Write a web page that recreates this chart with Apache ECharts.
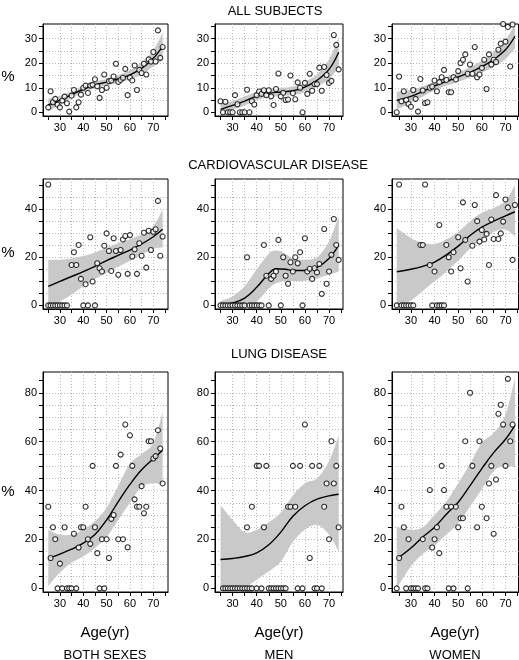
<!DOCTYPE html>
<html><head><meta charset="utf-8">
<script src="https://cdn.jsdelivr.net/npm/echarts@6/dist/echarts.min.js"></script>
<style>html,body{margin:0;padding:0;background:#fff}#c{width:519px;height:660px}</style>
</head><body><div id="c"></div>
<script>
// ---------- tick labels ----------
const xLabelVals = [30, 40, 50, 60, 70];
const xTickVals = [25, 30, 35, 40, 45, 50, 55, 60, 65, 70, 75];
const yLabelsRow1 = [0, 10, 20, 30];
const yLabelsRow2 = [0, 20, 40];
const yLabelsRow3 = [0, 20, 40, 60, 80];
const yTicksRow1 = [0, 5, 10, 15, 20, 25, 30, 35];
const yTicksRow2 = [0, 5, 10, 15, 20, 25, 30, 35, 40, 45, 50];
const yTicksRow3 = [0, 5, 10, 15, 20, 25, 30, 35, 40, 45, 50, 55, 60, 65, 70, 75, 80, 85];
const rowTitles = ['ALL SUBJECTS', 'CARDIOVASCULAR DISEASE', 'LUNG DISEASE'];
const colTitles = ['BOTH SEXES', 'MEN', 'WOMEN'];

// ---------- ALL SUBJECTS ----------
const ageAllBoth = [25,26,27,28,29,30,31,32,33,34,35,36,37,38,39,40,41,42,43,44,45,46,47,48,49,50,51,52,53,54,55,56,57,58,59,60,61,62,63,64,65,66,67,68,69,70,71,72,73,74];
const valAllBoth = [2.0,8.6,4.1,5.5,3.1,2.0,4.8,6.4,3.7,0.3,6.8,9.1,2.0,4.1,7.2,10.0,10.9,7.9,10.9,11.2,13.5,10.6,5.9,9.1,15.4,10.0,12.7,13.0,14.6,19.8,12.4,13.2,14.1,17.7,7.0,14.1,13.0,19.1,9.1,17.3,16.0,19.8,15.4,21.6,20.7,24.6,20.7,33.4,22.2,26.6];
const ageAllMen = [25,26,27,28,29,30,31,32,33,34,35,36,37,38,39,40,41,42,43,44,45,46,47,48,49,50,51,52,53,54,55,56,57,58,59,60,61,62,63,64,65,66,67,68,69,70,71,72,73,74];
const valAllMen = [4.5,0,4.3,0,0,0,7.0,3.3,0,0,0,9.2,0,4.5,3.2,7.0,8.5,7.5,9.0,7.0,9.0,6.5,3.0,9.5,15.8,6.5,8.0,5.0,5.2,15.0,7.8,5.3,12.2,10.0,0,12.0,7.5,15.7,8.8,11.5,11.5,18.2,8.8,18.5,15.2,12.0,12.8,31.5,27.5,17.5];
const ageAllWomen = [24,25,26,27,28,29,30,31,32,33,34,35,36,37,38,39,40,41,42,43,44,45,46,47,48,49,50,51,52,53,54,55,56,57,58,59,60,61,62,63,64,65,66,67,68,69,70,71,72,73];
const valAllWomen = [0,14.6,4.5,8.6,5.0,3.4,2.3,9.1,5.5,0.3,13.6,8.9,3.8,4.1,10.0,10.5,13.0,8.6,12.3,14.3,17.3,13.2,8.2,8.2,14.3,13.4,16.8,20.1,21.4,23.6,15.7,19.5,15.7,26.6,14.3,15.4,18.1,21.4,9.5,23.6,19.5,21.4,20.5,25.5,28.0,36.0,28.8,34.8,18.7,35.8];

// ---------- CARDIOVASCULAR DISEASE ----------
const ageCvdBoth = [25,25,26,27,28,29,30,31,32,33,35,36,37,38,39,40,41,42,43,44,45,46,47,48,49,50,51,52,53,54,55,56,57,58,59,60,61,62,63,64,65,66,67,68,69,70,71,72,73,74];
const valCvdBoth = [50.2,0,0,0,0,0,0,0,0,0,16.8,22.1,16.8,25.1,11.0,0,8.8,0,28.3,9.9,0,17.5,15.4,14.1,24.8,29.9,22.6,14.3,27.9,22.6,12.7,23.0,27.4,28.8,13.1,29.2,20.3,23.3,13.1,25.8,20.6,30.2,15.7,31.0,23.0,30.6,31.6,43.4,20.6,28.6];
const ageCvdMen = [25,26,27,28,29,30,31,32,33,34,35,36,37,38,39,40,41,42,43,44,45,46,47,48,49,50,51,52,53,54,55,56,57,58,59,60,61,62,63,64,65,66,67,68,69,70,71,72,73,74];
const valCvdMen = [0,0,0,0,0,0,0,0,0,0,0,20.0,0,0,0,0,0,0,25.1,12.3,0,11.0,12.3,14.1,27.2,0,20.0,12.3,9.0,17.9,14.1,20.0,17.5,22.1,0,27.9,14.1,15.2,11.0,15.4,13.7,17.2,4.8,31.7,9.0,14.1,21.0,35.9,25.1,18.9];
const ageCvdWomen = [24,25,26,27,28,29,30,31,34,35,36,38,39,40,41,42,42,43,44,45,46,47,48,50,51,52,53,54,56,57,58,59,60,61,62,63,64,65,66,67,68,69,70,71,73,74];
const valCvdWomen = [0,50.2,0,0,0,0,0,0,25.1,25.1,50.2,16.8,0,14.1,0,33.4,0,0,0,25.1,20.0,14.1,22.1,28.3,15.4,42.8,27.2,9.9,24.8,41.7,35.0,26.5,31.3,27.4,29.7,16.8,35.7,27.6,45.8,27.6,29.9,34.8,44.0,40.7,18.9,41.7];

// ---------- LUNG DISEASE ----------
const ageLungBoth = [25,26,27,28,29,30,31,32,33,34,35,36,37,38,39,40,41,42,43,44,45,46,47,48,49,50,51,52,53,54,55,56,57,58,59,60,61,62,63,64,65,66,67,68,69,70,71,72,73,74];
const valLungBoth = [33.4,12.4,25.0,20.1,0,10.1,0,25.0,0,0,0,22.3,0,16.7,25.0,25.0,33.4,20.1,18.2,50.1,25.0,14.4,0,20.1,0,20.1,12.4,28.4,30.0,50.1,20.1,54.7,20.1,67.0,16.8,62.6,50.1,36.4,33.4,33.4,41.8,30.7,33.4,60.2,60.2,53.1,54.1,64.7,57.2,42.9];
const ageLungMen = [26,27,28,29,30,31,32,33,34,35,36,36,37,38,38,40,40,41,42,43,44,45,46,47,48,49,50,51,52,53,54,55,56,57,58,59,60,62,63,64,65,66,67,68,69,70,71,72,73,74];
const valLungMen = [0,0,0,0,0,0,0,0,0,0,0,25.0,0,0,33.4,0,50.1,50.1,0,25.0,50.1,0,0,0,0,0,0,0,0,33.4,33.4,50.1,33.4,0,50.1,0,67.0,12.4,50.1,0,0,50.1,0,33.4,42.9,20.1,60.2,42.9,50.1,25.0];
const ageLungWomen = [24,25,26,27,28,29,30,31,32,33,35,36,37,38,39,40,41,42,43,44,45,46,47,48,49,50,51,52,53,54,55,56,58,59,60,62,63,64,65,66,67,68,69,70,71,72,73];
const valLungWomen = [0,12.4,33.4,25.0,0,20.1,0,0,0,0,20.1,0,0,40.2,16.7,20.1,25.0,14.4,50.1,40.2,33.4,0,33.4,0,33.4,25.0,28.7,28.7,60.2,0,80.0,50.1,25.0,60.2,33.4,28.7,42.9,50.1,22.3,44.5,71.4,75.1,67.0,50.1,85.7,60.2,67.0];

// ---------- smoothed fits and confidence bands ----------
const fitAgesBoth = [25,30,35,40,45,50,55,60,65,70,74];
const fitAgesMen = [25,30,35,40,45,50,55,60,65,70,74];
const fitAgesCvdMen = [25,30,35,40,45,48,52,55,60,65,70,74];
const fitAgesWomen = [24,30,35,40,45,50,55,60,65,70,74];

const fitAllBoth = [3.0,5.0,7.2,9.4,11.2,12.3,13.6,15.3,17.9,22.0,27.0];
const hiAllBoth  = [5.6,6.8,8.6,10.8,12.6,13.6,15.1,17.2,20.4,25.2,32.5];
const loAllBoth  = [0.3,3.2,5.8,8.0,9.8,10.9,12.1,13.4,15.4,18.8,21.2];
const fitAllMen = [1.2,2.8,4.6,6.6,7.8,8.3,8.8,10.3,13.0,17.5,24.5];
const hiAllMen  = [3.5,4.6,6.4,8.4,9.5,9.9,10.5,12.4,15.5,21.5,30.5];
const loAllMen  = [-1.1,1.0,2.8,4.9,6.2,6.7,7.1,8.2,10.5,13.5,18.5];
const fitAllWomen = [4.8,6.5,8.5,10.8,12.6,14.4,16.3,18.6,21.5,25.5,31.0];
const hiAllWomen  = [8.4,9.2,10.6,12.6,14.5,16.3,18.4,21.0,24.5,29.5,36.0];
const loAllWomen  = [1.2,3.8,6.4,9.0,10.8,12.5,14.2,16.2,18.5,21.7,26.0];

const fitCvdBoth = [7.9,10.0,12.0,14.0,16.2,18.6,20.8,23.0,25.5,28.5,31.6];
const hiCvdBoth  = [19.0,19.0,19.5,20.5,22.0,24.0,25.8,27.5,29.5,33.0,39.6];
const loCvdBoth  = [-1.2,1.5,4.5,8.0,11.0,13.5,16.0,18.5,21.0,23.5,24.0];
const fitCvdMen = [0.0,1.0,3.0,7.5,13.2,15.2,15.0,14.5,14.5,15.8,19.5,25.0];
const hiCvdMen  = [1.8,3.8,8.0,15.0,21.5,22.8,21.5,19.5,19.0,20.0,26.5,37.0];
const loCvdMen  = [-1.5,-1.2,-0.5,1.5,7.0,9.2,10.0,10.1,10.2,11.2,12.8,14.0];
const fitCvdWomen = [14.0,15.0,16.2,18.0,21.0,24.6,29.0,32.5,35.0,37.2,38.9];
const hiCvdWomen  = [32.0,28.0,26.0,25.5,27.5,30.5,35.0,38.5,40.5,43.5,50.0];
const loCvdWomen  = [-1.0,2.0,6.0,10.0,14.0,18.5,23.5,27.5,30.5,31.5,28.5];

const fitLungBoth = [12.2,14.0,16.0,18.5,22.0,28.0,35.5,42.5,48.5,53.0,56.5];
const hiLungBoth  = [24.0,22.0,22.0,24.0,27.5,33.0,42.0,51.0,55.0,59.5,72.0];
const loLungBoth  = [1.0,6.5,10.5,13.0,16.5,21.0,28.0,35.0,41.5,43.0,42.5];
const fitLungMen = [11.8,12.2,13.0,14.5,17.8,23.0,29.5,33.8,36.5,37.8,38.5];
const hiLungMen  = [34.0,28.0,23.0,24.0,27.0,31.0,38.0,43.0,45.0,52.0,62.5];
const loLungMen  = [-12.0,-5.0,0.0,3.5,7.0,11.0,19.0,24.0,26.0,22.0,15.0];
const fitLungWomen = [12.0,16.5,21.0,25.0,30.3,35.2,42.0,49.0,55.5,61.0,66.7];
const hiLungWomen  = [25.0,24.0,25.0,30.0,35.5,43.0,51.0,59.5,63.5,71.0,86.0];
const loLungWomen  = [0.0,9.0,14.0,17.5,22.0,26.5,33.5,40.5,48.0,50.0,49.5];

// ---------- layout ----------
const rowTop = [24, 179, 372];
const rowH = [92, 130, 220];
const colLeft = [43, 215, 392];
const colW = [125, 128, 126.5];
const yMin = -1.5;
const yMax = [36, 52.5, 88.5];
const ySplit = [5, 10, 20];
const xRange = [[22.75, 76.3], [22.7, 75.8], [22.0, 75.5]];
const yLabelsByRow = [yLabelsRow1, yLabelsRow2, yLabelsRow3];
const yTicksByRow = [yTicksRow1, yTicksRow2, yTicksRow3];

const panels = [
  {row:0,col:0,ages:ageAllBoth,vals:valAllBoth,fa:fitAgesBoth,fit:fitAllBoth,hi:hiAllBoth,lo:loAllBoth},
  {row:0,col:1,ages:ageAllMen,vals:valAllMen,fa:fitAgesMen,fit:fitAllMen,hi:hiAllMen,lo:loAllMen},
  {row:0,col:2,ages:ageAllWomen,vals:valAllWomen,fa:fitAgesWomen,fit:fitAllWomen,hi:hiAllWomen,lo:loAllWomen},
  {row:1,col:0,ages:ageCvdBoth,vals:valCvdBoth,fa:fitAgesBoth,fit:fitCvdBoth,hi:hiCvdBoth,lo:loCvdBoth},
  {row:1,col:1,ages:ageCvdMen,vals:valCvdMen,fa:fitAgesCvdMen,fit:fitCvdMen,hi:hiCvdMen,lo:loCvdMen},
  {row:1,col:2,ages:ageCvdWomen,vals:valCvdWomen,fa:fitAgesWomen,fit:fitCvdWomen,hi:hiCvdWomen,lo:loCvdWomen},
  {row:2,col:0,ages:ageLungBoth,vals:valLungBoth,fa:fitAgesBoth,fit:fitLungBoth,hi:hiLungBoth,lo:loLungBoth},
  {row:2,col:1,ages:ageLungMen,vals:valLungMen,fa:fitAgesMen,fit:fitLungMen,hi:hiLungMen,lo:loLungMen},
  {row:2,col:2,ages:ageLungWomen,vals:valLungWomen,fa:fitAgesWomen,fit:fitLungWomen,hi:hiLungWomen,lo:loLungWomen}
];

const FONT = '"Liberation Sans", Arial, sans-serif';
const option = {animation:false, backgroundColor:'#fff', grid:[], xAxis:[], yAxis:[], series:[], graphic:[]};

// Catmull-Rom to cubic bezier path segments through pixel points
function curvePath(pts) {
  let d = '';
  for (let k = 0; k < pts.length - 1; k++) {
    const p0 = pts[Math.max(k - 1, 0)], p1 = pts[k], p2 = pts[k + 1], p3 = pts[Math.min(k + 2, pts.length - 1)];
    const c1x = p1[0] + (p2[0] - p0[0]) / 6, c1y = p1[1] + (p2[1] - p0[1]) / 6;
    const c2x = p2[0] - (p3[0] - p1[0]) / 6, c2y = p2[1] - (p3[1] - p1[1]) / 6;
    d += ' C' + c1x + ',' + c1y + ' ' + c2x + ',' + c2y + ' ' + p2[0] + ',' + p2[1];
  }
  return d;
}

panels.forEach((p, i) => {
  const r = p.row, c = p.col;
  option.grid.push({left:colLeft[c], top:rowTop[r], width:colW[c], height:rowH[r],
    show:true, borderColor:'#000', borderWidth:1, backgroundColor:'transparent'});
  option.xAxis.push({type:'value', gridIndex:i, min:xRange[c][0], max:xRange[c][1],
    minInterval:10, maxInterval:10,
    axisLine:{show:true, onZero:false, lineStyle:{color:'#000', width:1}},
    axisTick:{show:true, customValues:xTickVals, length:4, lineStyle:{color:'#000', width:1}},
    axisLabel:{show:true, customValues:xLabelVals, color:'#000', fontSize:11, fontFamily:FONT, margin:6},
    splitLine:{show:true, showMinLine:false, showMaxLine:false, lineStyle:{color:'#b8b8b8', width:1, type:[1,2]}}});
  option.yAxis.push({type:'value', gridIndex:i, min:yMin, max:yMax[r],
    minInterval:ySplit[r], maxInterval:ySplit[r],
    axisLine:{show:true, onZero:false, lineStyle:{color:'#000', width:1}},
    axisTick:{show:true, customValues:yTicksByRow[r], length:4, lineStyle:{color:'#000', width:1}},
    axisLabel:{show:true, customValues:yLabelsByRow[r], color:'#000', fontSize:11, fontFamily:FONT, margin:6},
    splitLine:{show:true, showMinLine:false, showMaxLine:false, lineStyle:{color:'#b8b8b8', width:1, type:[1,2]}}});
  // confidence band: polygon built from upper and lower bounds through the axes
  option.series.push({type:'custom', xAxisIndex:i, yAxisIndex:i, clip:true, silent:true, z:1,
    data:p.fa.map((a,k)=>[a, p.lo[k], p.hi[k]]),
    renderItem:function(params, api) {
      if (params.dataIndex !== 0) return null;
      const up = p.fa.map((a,k)=>api.coord([a, p.hi[k]]));
      const dn = p.fa.map((a,k)=>api.coord([a, p.lo[k]])).reverse();
      const d = 'M' + up[0][0] + ',' + up[0][1] + curvePath(up) +
                ' L' + dn[0][0] + ',' + dn[0][1] + curvePath(dn) + ' Z';
      const cs = params.coordSys;
      return {type:'group', children:[{type:'path', shape:{pathData:d}, style:{fill:'#c9c9c9', stroke:null}}],
        clipPath:{type:'rect', shape:{x:cs.x, y:cs.y, width:cs.width, height:cs.height}}};
    }});
  option.series.push({type:'line', xAxisIndex:i, yAxisIndex:i,
    data:p.fa.map((a,k)=>[a, p.fit[k]]), smooth:0.4, symbol:'none', silent:true,
    lineStyle:{color:'#000', width:1.4}, z:3});
  option.series.push({type:'scatter', xAxisIndex:i, yAxisIndex:i,
    data:p.ages.map((a,k)=>[a, p.vals[k]]), symbol:'circle', symbolSize:5,
    itemStyle:{color:'#fff', borderColor:'#000', borderWidth:1.1}, silent:true, z:4});
});

function txt(x, y, s, size) {
  return {type:'text', x:x, y:y, silent:true,
    style:{text:s, align:'center', verticalAlign:'middle', textAlign:'center', textVerticalAlign:'middle',
      font: size + 'px ' + FONT, fill:'#000'}};
}
const titleX = [275, 278, 279];
const titleY = [11, 165, 354];
rowTitles.forEach((t, r) => option.graphic.push(txt(titleX[r], titleY[r], t, 13)));
const pctY = [77, 253, 492];
pctY.forEach(y => option.graphic.push(txt(8, y, '%', 15)));
const colCenters = [105, 279, 455];
colCenters.forEach((x, c) => {
  option.graphic.push(txt(x, 633, 'Age(yr)', 15));
  option.graphic.push(txt(x, 655, colTitles[c], 13));
});

const chart = echarts.init(document.getElementById('c'), null, {renderer:'canvas'});
chart.setOption(option);
</script>
</body></html>
